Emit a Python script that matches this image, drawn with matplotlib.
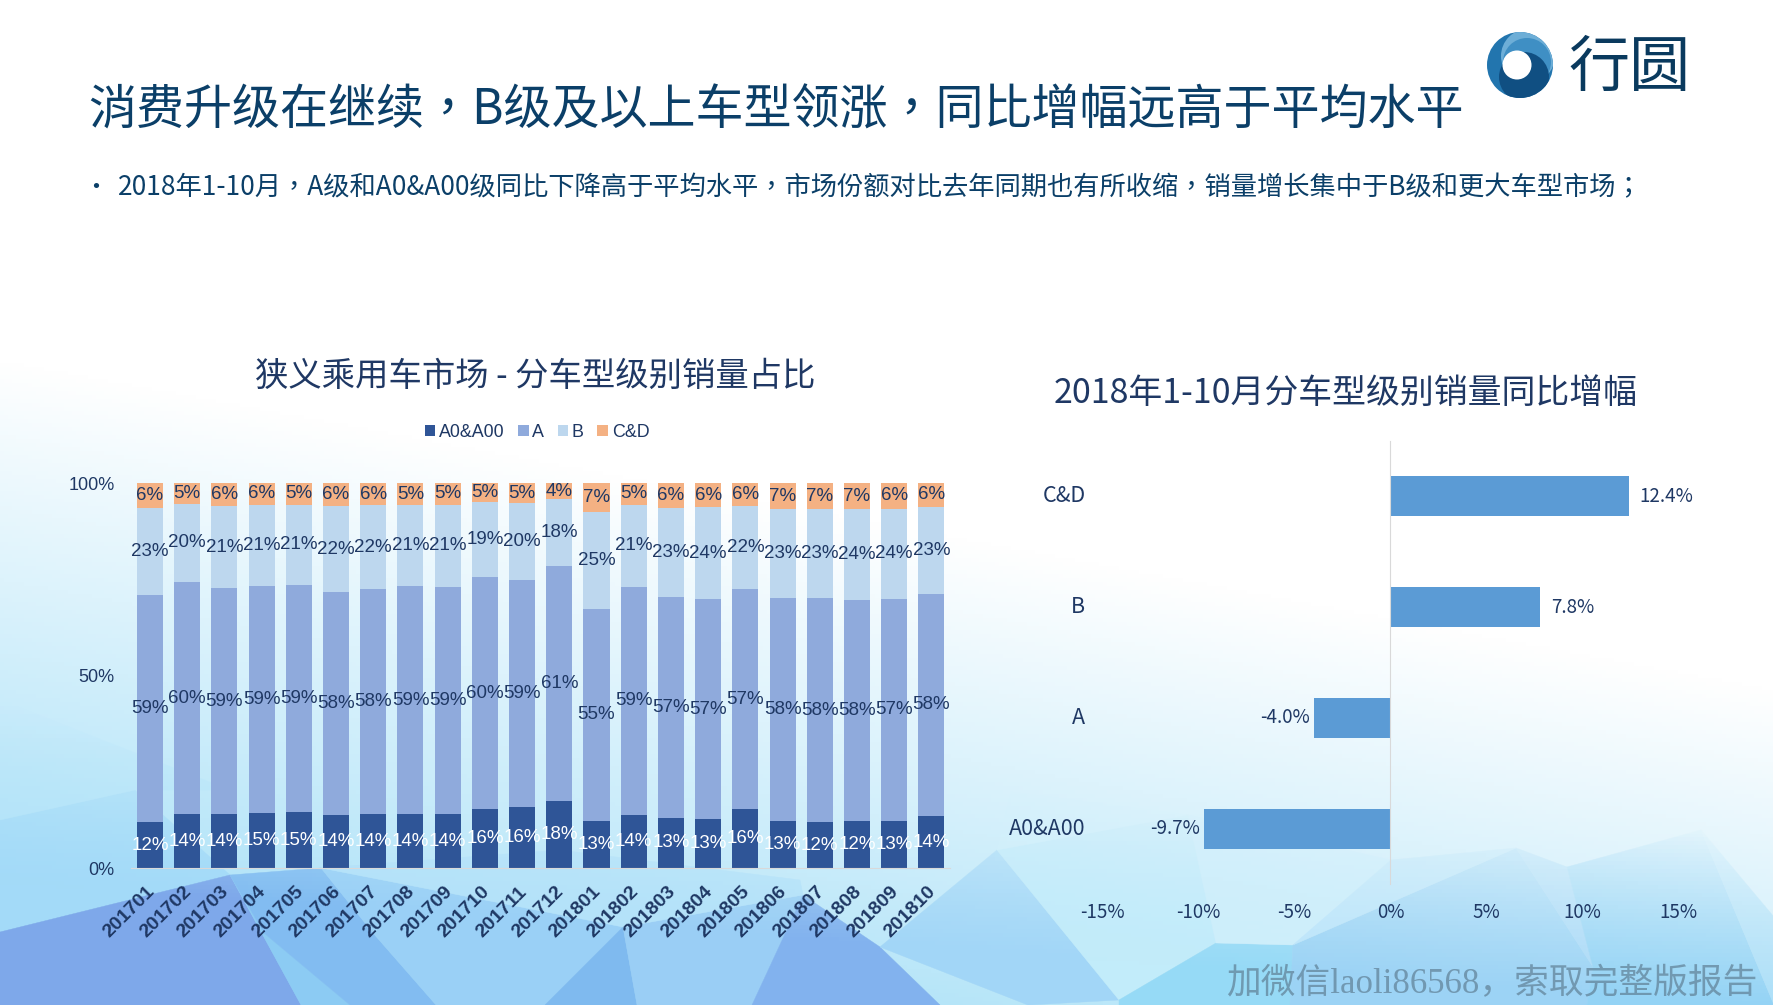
# 狭义乘用车 分车型级别 销量占比 / 同比增幅

import numpy as np
import matplotlib
matplotlib.use("Agg")
import matplotlib.pyplot as plt
from matplotlib.patches import Polygon, Circle
from matplotlib.transforms import ScaledTranslation

W, H = 1774, 1005

months = ["201701", "201702", "201703", "201704", "201705", "201706", "201707", "201708",
          "201709", "201710", "201711", "201712", "201801", "201802", "201803", "201804",
          "201805", "201806", "201807", "201808", "201809", "201810"]
a0_share = [11.9, 14.0, 14.0, 14.3, 14.5, 13.8, 14.0, 14.0, 14.0, 15.3, 15.8,
            17.4, 12.2, 13.8, 13.0, 12.7, 15.3, 12.2, 11.9, 12.2, 12.2, 13.5]
a_share = [59.0, 60.3, 58.7, 59.0, 59.0, 57.9, 58.4, 59.2, 59.0, 60.3, 59.0,
           61.0, 55.1, 59.2, 57.4, 57.1, 57.1, 57.9, 58.2, 57.4, 57.7, 57.7]
b_share = [22.6, 20.3, 21.3, 21.0, 20.8, 22.3, 21.8, 21.0, 21.3, 19.5, 20.0,
           17.4, 25.2, 21.3, 23.1, 23.9, 21.6, 23.1, 23.1, 23.6, 23.4, 22.6]
cd_share = [6.5, 5.5, 6.0, 5.7, 5.7, 6.0, 5.7, 5.7, 5.7, 4.9, 5.2,
            4.2, 7.5, 5.7, 6.5, 6.2, 6.0, 6.8, 6.8, 6.8, 6.8, 6.2]
a0_labels = [12, 14, 14, 15, 15, 14, 14, 14, 14, 16, 16, 18, 13, 14, 13, 13, 16, 13, 12, 12, 13, 14]
a_labels = [59, 60, 59, 59, 59, 58, 58, 59, 59, 60, 59, 61, 55, 59, 57, 57, 57, 58, 58, 58, 57, 58]
b_labels = [23, 20, 21, 21, 21, 22, 22, 21, 21, 19, 20, 18, 25, 21, 23, 24, 22, 23, 23, 24, 24, 23]
cd_labels = [6, 5, 6, 6, 5, 6, 6, 5, 5, 5, 5, 4, 7, 5, 6, 6, 6, 7, 7, 7, 6, 6]

segments = ["A0&A00", "A", "B", "C&D"]
growth = [-9.7, -4.0, 7.8, 12.4]

NAVY = "#1F3864"
TITLE = "#0B3F68"
SANS = ["Noto Sans CJK SC", "DejaVu Sans"]
HEAD = ["Noto Sans CJK TC", "Noto Sans CJK SC", "DejaVu Sans"]
ARIAL = "Liberation Sans"


def rect(left, top, right, bottom):
    return [left / W, 1 - bottom / H, (right - left) / W, (bottom - top) / H]


fig = plt.figure(figsize=(W / 100, H / 100), dpi=100, facecolor="white")

# background, in pixels
bg = fig.add_axes([0, 0, 1, 1], zorder=0)
bg.set_xlim(0, W)
bg.set_ylim(H, 0)
bg.axis("off")

yy, xx = np.mgrid[0:H:4, 0:W:4]
start = 360 + 330 * xx / W
t = np.clip((yy - start) / 560, 0, 1)[..., None]
grad = (1 - t) * np.array([1.0, 1.0, 1.0]) + t * np.array([0.66, 0.88, 0.97])
bg.imshow(grad, extent=[0, W, H, 0], aspect="auto", zorder=0)

facets = [
    ([(0, 820), (135, 790), (230, 875), (0, 932)], "#A3DAF8"),
    ([(0, 700), (230, 790), (135, 790), (0, 820)], "#B4E4FA"),
    ([(0, 932), (230, 875), (301, 1005), (0, 1005)], "#7EA8EA"),
    ([(230, 875), (264, 933), (350, 1005), (301, 1005)], "#8CCBF3"),
    ([(230, 875), (321, 868), (373, 933), (436, 1005), (350, 1005), (264, 933)], "#82BCF1"),
    ([(321, 868), (623, 927), (545, 1005), (436, 1005), (373, 933)], "#9AD0F6"),
    ([(623, 927), (637, 1005), (545, 1005)], "#7FBAEF"),
    ([(623, 927), (803, 895), (752, 1005), (637, 1005)], "#9ACEF5"),
    ([(803, 895), (880, 947), (940, 1005), (752, 1005)], "#82B2EE"),
    ([(321, 868), (560, 850), (800, 880), (803, 895), (623, 927)], "#B4E2FA"),
    ([(880, 947), (997, 850), (1119, 1000), (1028, 1005)], "#A2D6F7"),
    ([(997, 850), (1188, 815), (1216, 943), (1119, 1000)], "#C2ECFA"),
    ([(1119, 1000), (1216, 943), (1293, 945), (1290, 1005), (1119, 1005)], "#96DAF6"),
    ([(1188, 815), (1391, 860), (1293, 945), (1216, 943)], "#CFEFFB"),
    ([(1293, 945), (1516, 848), (1593, 967), (1587, 1005), (1290, 1005)], "#9CD3F5"),
    ([(1516, 848), (1567, 867), (1593, 967)], "#ABD9F7"),
    ([(1567, 867), (1701, 830), (1774, 1005), (1587, 1005), (1593, 967)], "#94D3F5"),
    ([(1701, 830), (1774, 917), (1774, 1005)], "#ADDFF8"),
    ([(997, 850), (1011, 792), (1188, 815)], "#D4F2FC"),
    ([(1391, 860), (1516, 848), (1293, 945)], "#BDE5FA"),
]
for pts, col in facets:
    bg.add_patch(Polygon(pts, closed=True, facecolor=col, edgecolor=col, lw=0.3, zorder=1))

# facets melt into the gradient going up
fade = np.clip((885 + 0.07 * xx - yy) / 180, 0, 1)[..., None]
bg.imshow(np.concatenate([grad, fade], axis=2), extent=[0, W, H, 0], aspect="auto", zorder=1.5)
bg.set_xlim(0, W)
bg.set_ylim(H, 0)

# logo
cx, cy, r = 1520, 65, 33
disk = Circle((cx, cy), r, facecolor="#2275AE", lw=0, zorder=2)
bg.add_patch(disk)
for (dx, dy, rr, col) in [(8, -9, 27, "#6DAED7"), (7, -3, 24, "#3F8FC4"), (4, 12, 25, "#104F82")]:
    c = Circle((cx + dx, cy + dy), rr, facecolor=col, lw=0, zorder=2)
    bg.add_patch(c)
    c.set_clip_path(disk)
bg.add_patch(Circle((cx - 3, cy), 14.5, facecolor="white", lw=0, zorder=3))
bg.text(1630, 69, "行圆", family=SANS, fontsize=44, color="#0A3A5E", ha="center", va="center", zorder=3)

# header text
bg.text(88, 111, "消费升级在继续，B级及以上车型领涨，同比增幅远高于平均水平", family=HEAD,
        fontsize=34.6, color=TITLE, ha="left", va="center", zorder=3)
bg.text(96, 188, "•", family=HEAD, fontsize=18, color=TITLE, ha="center", va="center", zorder=3)
bg.text(118, 188, "2018年1-10月，A级和A0&A00级同比下降高于平均水平，市场份额对比去年同期也有所收缩，"
        "销量增长集中于B级和更大车型市场；", family=HEAD, fontsize=18.93, color=TITLE,
        ha="left", va="center", zorder=3)

bg.text(1757, 985, "加微信laoli86568，索取完整版报告", family=["Liberation Serif", "Noto Sans CJK SC"],
        fontsize=25, color="#5F7F94", alpha=0.7, ha="right", va="center", zorder=3)

# stacked share chart
ax = fig.add_axes(rect(131.4, 483, 950, 868), zorder=2)
ax.patch.set_alpha(0)
x = np.arange(len(months))
bottom = np.zeros(len(months))
series = [
    (a0_share, a0_labels, "#2F5597", "white"),
    (a_share, a_labels, "#8FAADC", NAVY),
    (b_share, b_labels, "#BDD7EE", NAVY),
    (cd_share, cd_labels, "#F4B183", NAVY),
]
for name, (vals, labs, col, tcol) in zip(segments, series):
    bars = ax.bar(x, vals, 0.7, bottom=bottom, color=col, label=name)
    ax.bar_label(bars, labels=[f"{v}%" for v in labs], label_type="center", color=tcol,
                 fontsize=13.5, family=ARIAL)
    bottom += np.array(vals)

ax.set_xlim(-0.5, len(months) - 0.5)
ax.set_ylim(0, 100)
ax.set_yticks([0, 50, 100], ["0%", "50%", "100%"], family=ARIAL, fontsize=13, color=NAVY)
ax.set_xticks(x)
ax.set_xticklabels(months, rotation=45, ha="right", rotation_mode="anchor", family=ARIAL,
                   fontsize=14, fontweight="bold", color=NAVY)
ax.tick_params(axis="y", length=0, pad=12)
ax.tick_params(axis="x", length=0, pad=11)
shift = ScaledTranslation(-3 / 72, 0, fig.dpi_scale_trans)
for lab in ax.get_xticklabels():
    lab.set_transform(lab.get_transform() + shift)
for s in ["top", "left", "right"]:
    ax.spines[s].set_visible(False)
ax.spines["bottom"].set_color("#D9D9D9")

leg = ax.legend(ncols=4, loc="center", bbox_to_anchor=((537 - 131.4) / 818.6, (868 - 432.5) / 385),
                frameon=False, handlelength=0.6, handleheight=0.6, handletextpad=0.2,
                columnspacing=0.75, prop={"family": ARIAL, "size": 12.9}, labelcolor=NAVY)

bg.text(535, 376, "狭义乘用车市场 - 分车型级别销量占比", family=SANS, fontsize=24, color=NAVY,
        ha="center", va="center", zorder=3)

# growth chart
ax2 = fig.add_axes(rect(1102.5, 441, 1678.5, 884), zorder=2)
ax2.patch.set_alpha(0)
ax2.barh(segments, growth, 0.36, color="#5B9BD5")
for i, v in enumerate(growth):
    ax2.annotate(f"{v:.1f}%", (v, i), xytext=(11 if v > 0 else -4, 0), textcoords="offset pixels",
                 ha="left" if v > 0 else "right", va="center", family=SANS, fontsize=13.5, color=NAVY)
ax2.set_xlim(-15, 15)
ax2.set_ylim(-0.5, 3.5)
ax2.set_xticks(range(-15, 16, 5), [f"{v}%" for v in range(-15, 16, 5)], family=SANS,
               fontsize=13.5, color=NAVY)
ax2.tick_params(axis="x", length=0, pad=13)
ax2.tick_params(axis="y", length=0, pad=0, labelleft=False)
for s in ["top", "right", "bottom"]:
    ax2.spines[s].set_visible(False)
ax2.spines["left"].set_position(("data", 0))
ax2.spines["left"].set_color("#D9D9D9")
for i, name in enumerate(segments):
    ax2.annotate(name, (0, i), xycoords=("axes fraction", "data"), xytext=(-17, 0),
                 textcoords="offset pixels", ha="right", va="center", family=SANS,
                 fontsize=15.5, color=NAVY)

bg.text(1345.5, 393, "2018年1-10月分车型级别销量同比增幅", family=SANS, fontsize=24.4, color=NAVY,
        ha="center", va="center", zorder=3)

fig.savefig("out.png", dpi=100, facecolor="white")
